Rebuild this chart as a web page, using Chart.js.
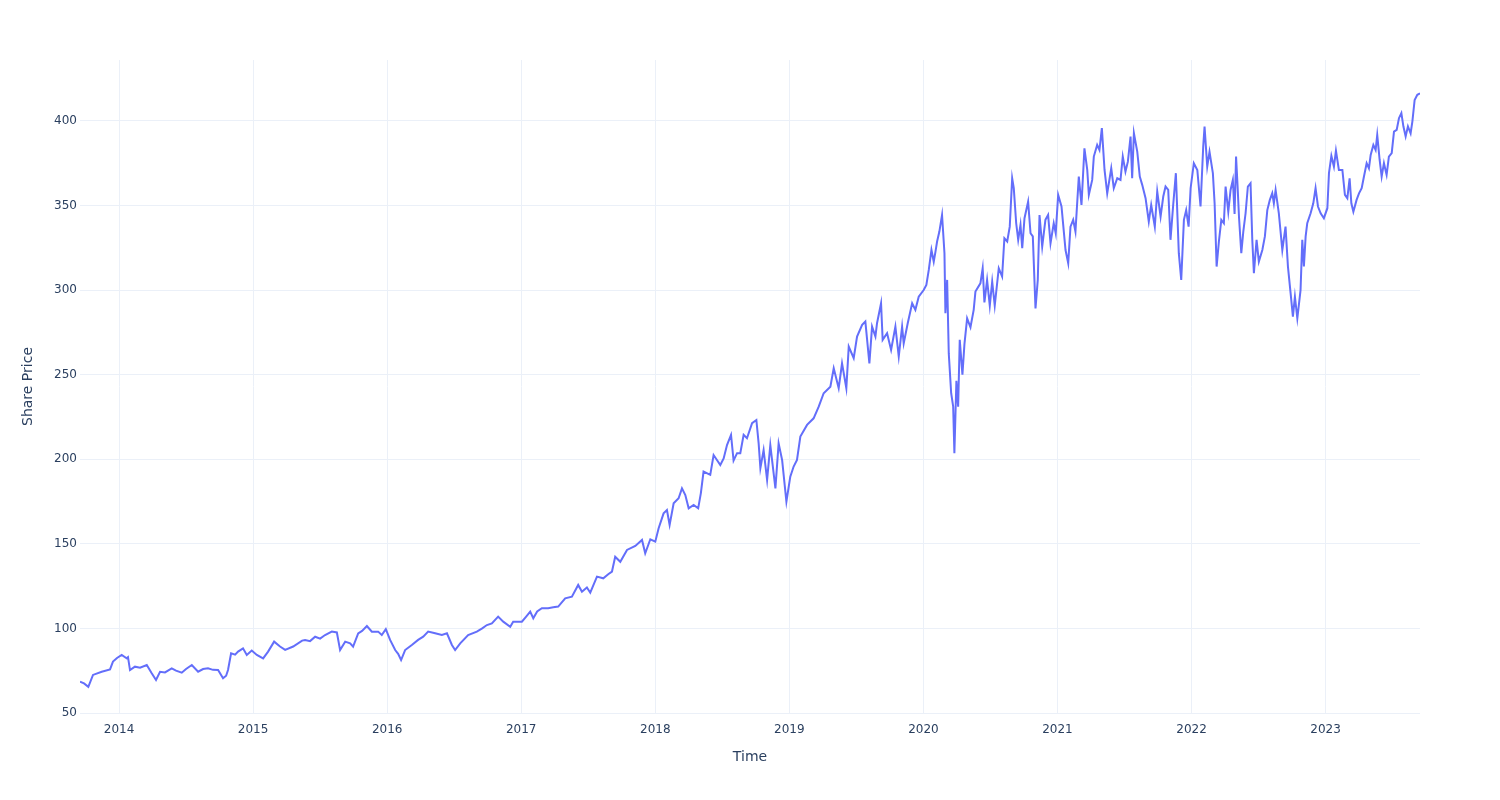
<!DOCTYPE html>
<html>
<head>
<meta charset="utf-8">
<script src="https://cdn.jsdelivr.net/npm/chart.js@4.4.1/dist/chart.umd.min.js"></script>
<style>
  html, body { margin: 0; padding: 0; background: #fff; }
  #wrap { width: 1500px; height: 800px; }
</style>
</head>
<body>
<div id="wrap"><canvas id="priceChart" width="1500" height="800"></canvas></div>
<script>
// dates as fractional years
const dates = [
  2013.709, 2013.739, 2013.771, 2013.806, 2013.871, 2013.933, 2013.955, 2013.985, 2014.020, 2014.057,
  2014.067, 2014.082, 2014.119, 2014.157, 2014.207, 2014.244, 2014.276, 2014.306, 2014.343, 2014.393,
  2014.425, 2014.468, 2014.500, 2014.543, 2014.590, 2014.627, 2014.664, 2014.701, 2014.739, 2014.776,
  2014.799, 2014.813, 2014.836, 2014.866, 2014.888, 2014.925, 2014.953, 2014.990, 2015.028, 2015.075,
  2015.112, 2015.157, 2015.201, 2015.239, 2015.299, 2015.366, 2015.388, 2015.425, 2015.463, 2015.500,
  2015.537, 2015.587, 2015.625, 2015.649, 2015.687, 2015.724, 2015.746, 2015.784, 2015.813, 2015.849,
  2015.886, 2015.933, 2015.960, 2015.990, 2016.022, 2016.060, 2016.082, 2016.104, 2016.134, 2016.184,
  2016.231, 2016.269, 2016.306, 2016.358, 2016.408, 2016.446, 2016.483, 2016.507, 2016.545, 2016.604,
  2016.669, 2016.709, 2016.744, 2016.781, 2016.828, 2016.866, 2016.918, 2016.940, 2016.978, 2017.005,
  2017.037, 2017.067, 2017.090, 2017.119, 2017.154, 2017.201, 2017.239, 2017.276, 2017.328, 2017.378,
  2017.425, 2017.453, 2017.490, 2017.515, 2017.565, 2017.612, 2017.649, 2017.677, 2017.701, 2017.739,
  2017.789, 2017.851, 2017.901, 2017.925, 2017.963, 2018.000, 2018.025, 2018.062, 2018.087, 2018.107,
  2018.137, 2018.174, 2018.199, 2018.224, 2018.249, 2018.286, 2018.320, 2018.340, 2018.360, 2018.410,
  2018.435, 2018.485, 2018.510, 2018.535, 2018.565, 2018.584, 2018.610, 2018.634, 2018.659, 2018.684,
  2018.722, 2018.754, 2018.771, 2018.784, 2018.808, 2018.834, 2018.858, 2018.896, 2018.920, 2018.946,
  2018.978, 2019.007, 2019.032, 2019.057, 2019.082, 2019.132, 2019.181, 2019.219, 2019.256, 2019.306,
  2019.331, 2019.368, 2019.393, 2019.425, 2019.443, 2019.480, 2019.505, 2019.543, 2019.567, 2019.597,
  2019.617, 2019.642, 2019.654, 2019.684, 2019.696, 2019.729, 2019.759, 2019.791, 2019.816, 2019.841,
  2019.853, 2019.883, 2019.916, 2019.940, 2019.965, 2020.002, 2020.022, 2020.040, 2020.060, 2020.077,
  2020.090, 2020.102, 2020.119, 2020.139, 2020.157, 2020.164, 2020.177, 2020.189, 2020.207, 2020.222,
  2020.231, 2020.246, 2020.259, 2020.271, 2020.291, 2020.306, 2020.326, 2020.351, 2020.375, 2020.388,
  2020.425, 2020.442, 2020.455, 2020.475, 2020.495, 2020.513, 2020.532, 2020.562, 2020.587, 2020.604,
  2020.625, 2020.644, 2020.662, 2020.674, 2020.692, 2020.707, 2020.724, 2020.737, 2020.754, 2020.781,
  2020.799, 2020.816, 2020.836, 2020.853, 2020.866, 2020.886, 2020.910, 2020.930, 2020.948, 2020.972,
  2020.987, 2021.005, 2021.030, 2021.060, 2021.080, 2021.097, 2021.117, 2021.134, 2021.159, 2021.179,
  2021.201, 2021.222, 2021.234, 2021.259, 2021.271, 2021.296, 2021.313, 2021.331, 2021.351, 2021.371,
  2021.401, 2021.420, 2021.446, 2021.470, 2021.487, 2021.507, 2021.525, 2021.545, 2021.557, 2021.570,
  2021.595, 2021.614, 2021.632, 2021.657, 2021.681, 2021.699, 2021.726, 2021.744, 2021.769, 2021.789,
  2021.806, 2021.826, 2021.843, 2021.863, 2021.883, 2021.905, 2021.923, 2021.943, 2021.960, 2021.978,
  2021.993, 2022.017, 2022.043, 2022.067, 2022.087, 2022.097, 2022.117, 2022.134, 2022.159, 2022.172,
  2022.187, 2022.204, 2022.222, 2022.241, 2022.254, 2022.274, 2022.291, 2022.308, 2022.321, 2022.332,
  2022.343, 2022.354, 2022.371, 2022.386, 2022.403, 2022.420, 2022.440, 2022.453, 2022.465, 2022.485,
  2022.502, 2022.528, 2022.547, 2022.565, 2022.584, 2022.602, 2022.614, 2022.627, 2022.651, 2022.677,
  2022.701, 2022.719, 2022.739, 2022.756, 2022.771, 2022.789, 2022.813, 2022.826, 2022.838, 2022.851,
  2022.863, 2022.888, 2022.908, 2022.925, 2022.943, 2022.963, 2022.987, 2023.013, 2023.025, 2023.043,
  2023.062, 2023.077, 2023.099, 2023.125, 2023.144, 2023.162, 2023.179, 2023.192, 2023.207, 2023.231,
  2023.249, 2023.269, 2023.286, 2023.306, 2023.323, 2023.336, 2023.356, 2023.373, 2023.385, 2023.403,
  2023.418, 2023.435, 2023.455, 2023.472, 2023.493, 2023.510, 2023.530, 2023.547, 2023.565, 2023.580,
  2023.597, 2023.614, 2023.634, 2023.647, 2023.664, 2023.684, 2023.704
];

const prices = [
  68.5, 67.5, 65.5, 72.5, 74.4, 75.8, 80.4, 82.5, 84.3, 82.3,
  83.0, 75.4, 77.4, 76.8, 78.4, 73.5, 69.5, 74.4, 74.0, 76.4,
  75.0, 73.8, 76.0, 78.4, 74.4, 76.0, 76.4, 75.5, 75.4, 70.5,
  72.0, 75.4, 85.3, 84.5, 86.3, 88.2, 84.3, 86.9, 84.3, 82.3,
  86.3, 92.2, 89.3, 87.3, 89.3, 92.8, 93.2, 92.5, 95.1, 94.0,
  96.1, 98.1, 97.6, 87.2, 92.2, 91.2, 89.2, 97.1, 98.5, 101.4,
  98.1, 98.1, 96.1, 99.6, 93.2, 87.2, 85.0, 81.3, 87.2, 90.2,
  93.2, 95.1, 98.1, 97.1, 96.1, 97.1, 90.2, 87.2, 91.2, 96.1,
  98.1, 100.0, 102.0, 103.0, 107.0, 104.0, 101.0, 104.0, 104.0, 104.0,
  107.0, 109.9, 106.0, 110.0, 111.9, 111.9, 112.5, 112.9, 117.8, 118.8,
  125.7, 121.7, 124.2, 121.1, 130.6, 129.6, 132.0, 133.6, 142.4, 139.4,
  146.4, 148.7, 152.3, 144.4, 152.7, 151.3, 159.2, 168.0, 170.0, 161.2,
  174.0, 176.9, 182.8, 178.8, 171.0, 173.0, 171.0, 180.0, 192.7, 190.8,
  202.5, 196.6, 200.5, 208.4, 214.4, 199.2, 203.6, 203.6, 214.4, 212.4,
  221.3, 223.2, 209.4, 194.7, 205.4, 187.8, 208.4, 182.8, 209.4, 199.6,
  174.9, 189.7, 195.7, 199.6, 213.4, 220.3, 224.2, 231.1, 239.0, 242.9,
  253.8, 242.0, 256.7, 242.0, 266.6, 259.7, 272.5, 279.4, 281.4, 256.7,
  278.4, 272.5, 280.4, 292.2, 270.6, 274.5, 264.6, 278.4, 260.7, 278.4,
  268.5, 280.4, 292.2, 288.3, 296.1, 300.0, 303.0, 311.9, 323.7, 316.8,
  322.7, 328.7, 334.6, 344.4, 321.8, 286.3, 306.0, 262.7, 239.0, 231.1,
  203.5, 246.4, 231.1, 270.6, 250.0, 268.0, 283.3, 278.0, 288.3, 299.1,
  304.0, 312.9, 292.7, 306.0, 290.8, 305.0, 290.8, 312.9, 308.0, 330.6,
  328.7, 337.5, 366.1, 360.2, 339.5, 329.7, 338.5, 324.7, 342.5, 352.3,
  333.6, 331.7, 289.2, 306.0, 344.4, 325.7, 341.5, 344.4, 327.7, 339.5,
  333.6, 356.3, 349.4, 323.7, 315.9, 337.5, 341.5, 334.6, 367.1, 350.3,
  383.8, 371.0, 356.3, 365.1, 378.9, 385.8, 382.8, 395.7, 371.0, 357.2,
  372.0, 360.2, 366.1, 365.1, 378.9, 370.0, 375.9, 390.7, 366.1, 392.7,
  381.8, 367.1, 362.2, 354.3, 340.5, 350.3, 337.5, 358.3, 343.4, 355.3,
  361.2, 359.2, 329.7, 350.3, 369.1, 321.8, 306.0, 341.5, 347.3, 337.5,
  360.2, 375.0, 371.0, 349.4, 384.8, 396.6, 373.0, 381.8, 369.1, 351.3,
  313.9, 328.7, 341.5, 339.5, 361.2, 346.3, 359.2, 365.1, 345.0, 378.9,
  362.0, 343.0, 321.8, 334.6, 345.4, 361.2, 363.2, 329.7, 310.0, 329.7,
  316.8, 323.7, 331.7, 347.3, 353.3, 357.2, 351.3, 359.2, 345.4, 323.7,
  337.5, 313.9, 298.1, 284.3, 296.1, 283.3, 300.0, 329.7, 313.9, 331.7,
  339.5, 345.4, 351.3, 360.2, 349.4, 345.4, 342.5, 348.4, 369.1, 379.3,
  373.0, 382.4, 371.0, 371.0, 356.3, 354.3, 366.1, 351.3, 346.3, 353.3,
  357.2, 360.2, 367.1, 375.0, 372.0, 379.9, 385.8, 382.8, 391.7, 376.9,
  367.1, 375.0, 368.1, 378.9, 380.9, 393.7, 394.7, 401.6, 404.6, 396.8,
  390.8, 396.8, 392.7, 399.6, 412.4, 415.4, 416.3
];

const yearTicks = [2014, 2015, 2016, 2017, 2018, 2019, 2020, 2021, 2022, 2023];
const priceTicks = [50, 100, 150, 200, 250, 300, 350, 400];

document.addEventListener('DOMContentLoaded', () => {
    initChart();
});

function initChart() {
    const ctx = document.getElementById('priceChart')?.getContext('2d');
    if (!ctx) return;

    Chart.defaults.font.family = '"DejaVu Sans", verdana, arial, sans-serif';
    Chart.defaults.color = '#2a3f5f';

    new Chart(ctx, {
        type: 'line',
        data: getChartData(),
        options: getChartOptions(),
    });
}

function getChartData() {
    return {
        datasets: [{
            label: 'Share Price',
            data: dates.map((d, i) => ({ x: d, y: prices[i] })),
            borderColor: '#636efa',
            borderWidth: 2,
            pointRadius: 0,
            tension: 0,
            fill: false
        }]
    };
}

function getChartOptions() {
    const gridColor = '#ebf0f8';
    return {
        responsive: false,
        animation: false,
        layout: { padding: { top: 60, right: 80, left: 0, bottom: 0 } },
        plugins: {
            legend: { display: false },
            tooltip: { enabled: false }
        },
        scales: {
            x: {
                type: 'linear',
                min: dates[0],
                max: dates[dates.length - 1],
                afterFit: (scale) => { scale.height = 87; },
                afterBuildTicks: (scale) => {
                    scale.ticks = yearTicks.map(v => ({ value: v }));
                },
                ticks: {
                    padding: 10,
                    font: { size: 12 },
                    maxRotation: 0,
                    callback: (v) => String(v)
                },
                grid: { color: gridColor, drawTicks: false },
                border: { display: false },
                title: {
                    display: true,
                    text: 'Time',
                    font: { size: 14 },
                    padding: { top: 0, bottom: 34 }
                }
            },
            y: {
                min: 50,
                max: 436,
                afterFit: (scale) => { scale.width = 80; },
                afterBuildTicks: (scale) => {
                    scale.ticks = priceTicks.map(v => ({ value: v }));
                },
                ticks: {
                    padding: 3,
                    font: { size: 12 }
                },
                grid: { color: gridColor, drawTicks: false },
                border: { display: false },
                title: {
                    display: true,
                    text: 'Share Price',
                    font: { size: 14 },
                    padding: { top: 20, bottom: 0 }
                }
            }
        }
    };
}
</script>
</body>
</html>
